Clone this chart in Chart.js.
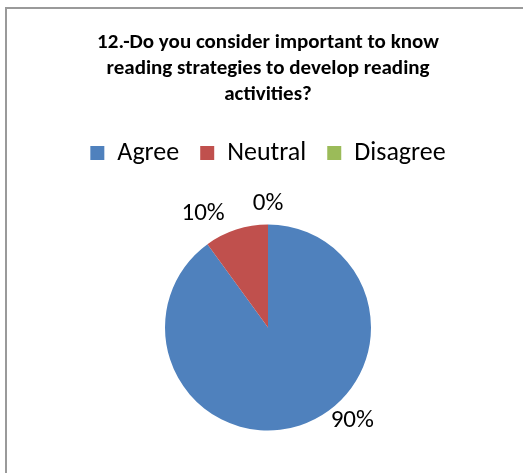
<!DOCTYPE html>
<html>
<head>
<meta charset="utf-8">
<script src="https://cdn.jsdelivr.net/npm/chart.js@4"></script>
<style>
  html, body { margin: 0; padding: 0; background: #fff; overflow: hidden; }
  #frame {
    position: absolute; left: 5px; top: 7px;
    width: 530px; height: 480px;
    border: 2px solid #9a9a9a;
  }
  canvas { display: block; }
</style>
</head>
<body>
<div id="frame"><canvas id="myChart" width="522" height="470"></canvas></div>
<script>
const titleLines = ['12.-Do you consider important to know', 'reading strategies to develop reading', 'activities?'];
const categories = ['Agree', 'Neutral', 'Disagree'];
const shares = [90, 10, 0];
const colors = ['#4F81BD', '#C0504D', '#9BBB59'];

const fontName = 'Carlito, Calibri, Lato, sans-serif';

// percentage labels placed around the pie, nudged like excel's "best fit"
const pieLabels = {
  id: 'pieLabels',
  afterDatasetsDraw(chart, args, opts) {
    const ctx = chart.ctx;
    const meta = chart.getDatasetMeta(0);
    ctx.save();
    ctx.font = opts.font;
    ctx.fillStyle = '#000';
    ctx.textAlign = 'center';
    ctx.textBaseline = 'middle';
    meta.data.forEach((arc, i) => {
      const p = arc.getProps(['x', 'y', 'startAngle', 'endAngle', 'outerRadius'], true);
      const mid = (p.startAngle + p.endAngle) / 2 + opts.shift[i] * Math.PI / 180;
      const r = p.outerRadius + opts.gap[i];
      ctx.fillText(shares[i] + '%', p.x + Math.cos(mid) * r, p.y + Math.sin(mid) * r);
    });
    ctx.restore();
  }
};

const ctx = document.getElementById('myChart').getContext('2d');

const myChart = new Chart(ctx, {
  type: 'pie',
  data: {
    labels: categories,
    datasets: [{
      data: shares,
      backgroundColor: colors,
      borderWidth: 0
    }]
  },
  plugins: [pieLabels],
  options: {
    responsive: false,
    animation: false,
    radius: 103,
    layout: { padding: { top: 0, bottom: 0 } },
    plugins: {
      title: {
        display: true,
        text: titleLines,
        color: '#000',
        font: { family: fontName, size: 21, weight: 'bold', lineHeight: 26 / 21 },
        padding: { top: 21, bottom: 11 }
      },
      legend: {
        position: 'top',
        labels: {
          color: '#000',
          boxWidth: 14,
          boxHeight: 14,
          padding: 21,
          font: { family: fontName, size: 26 }
        }
      },
      tooltip: { enabled: false },
      pieLabels: {
        font: '25px ' + fontName,
        shift: [-24, -11.7, 0],
        gap: [23, 28, 21]
      }
    }
  }
});
</script>
</body>
</html>
